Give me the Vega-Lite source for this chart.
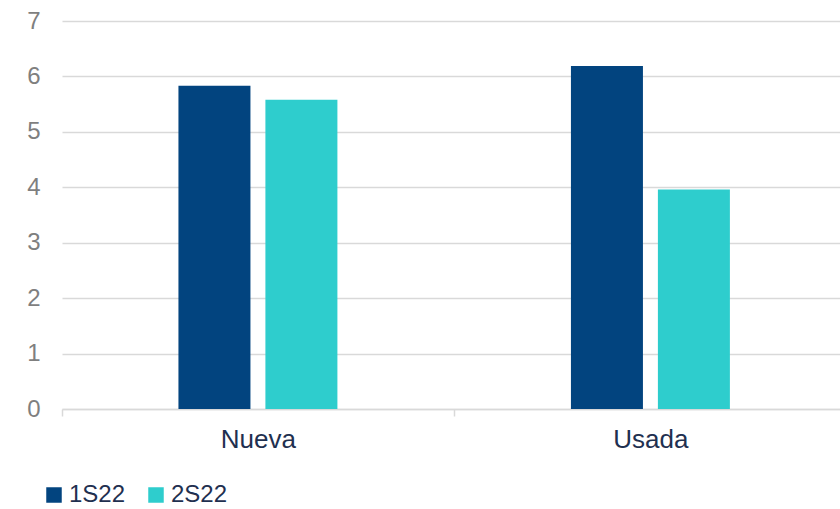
{
  "$schema": "https://vega.github.io/schema/vega-lite/v6.json",
  "width": 778,
  "height": 388,
  "autosize": {"type": "none"},
  "padding": {"left": 62, "top": 21, "right": 0, "bottom": 100},
  "background": "white",
  "config": {
    "view": {"stroke": null},
    "font": "Liberation Sans"
  },
  "data": {
    "values": [
      {"tipo": "Nueva", "periodo": "1S22", "valor": 5.83},
      {"tipo": "Nueva", "periodo": "2S22", "valor": 5.58},
      {"tipo": "Usada", "periodo": "1S22", "valor": 6.19},
      {"tipo": "Usada", "periodo": "2S22", "valor": 3.96}
    ]
  },
  "mark": {"type": "bar"},
  "encoding": {
    "x": {
      "field": "tipo",
      "type": "nominal",
      "scale": {"paddingInner": 0.595, "paddingOuter": 0.2886, "align": 0.514},
      "axis": {
        "title": null,
        "labelAngle": 0,
        "labelFontSize": 26,
        "labelColor": "#1F3050",
        "labelPadding": 10,
        "labelOffset": 196,
        "domainColor": "#D9D9D9",
        "domainWidth": 1.5,
        "tickOffset": -196,
        "tickColor": "#D9D9D9",
        "tickSize": 7,
        "tickWidth": 1.5
      }
    },
    "xOffset": {
      "field": "periodo",
      "type": "nominal",
      "scale": {"paddingInner": 0.172, "paddingOuter": 0}
    },
    "y": {
      "field": "valor",
      "type": "quantitative",
      "scale": {"domain": [0, 7], "nice": false},
      "axis": {
        "title": null,
        "values": [0, 1, 2, 3, 4, 5, 6, 7],
        "labelOverlap": false,
        "domain": false,
        "ticks": false,
        "labelFontSize": 24,
        "labelColor": "#7F7F7F",
        "labelPadding": 22,
        "gridColor": "#D9D9D9",
        "gridWidth": 1.5
      }
    },
    "color": {
      "field": "periodo",
      "type": "nominal",
      "scale": {"domain": ["1S22", "2S22"], "range": ["#02447F", "#2ECDCD"]},
      "legend": {
        "title": null,
        "orient": "none",
        "direction": "horizontal",
        "legendX": -20,
        "legendY": 462,
        "symbolType": "square",
        "symbolSize": 240,
        "symbolStrokeWidth": 0,
        "labelFontSize": 24,
        "labelColor": "#1F3050",
        "columnPadding": 18,
        "labelOffset": 3
      }
    }
  }
}
